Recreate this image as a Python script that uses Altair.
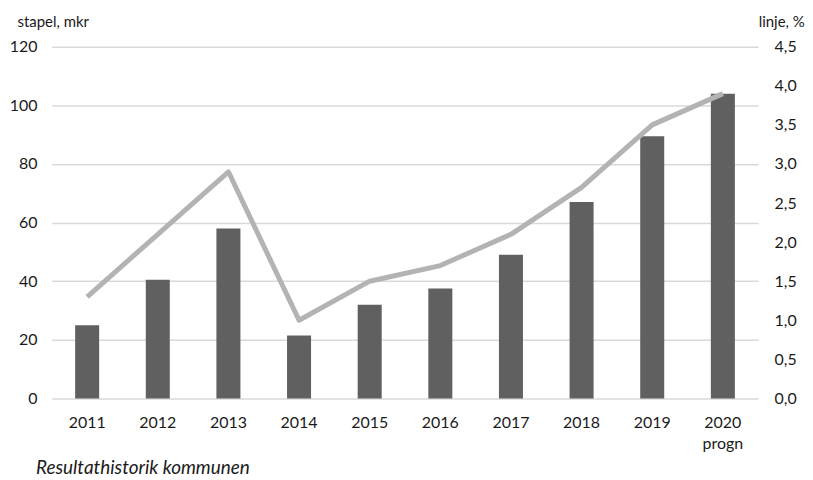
import altair as alt
import pandas as pd

years = ["2011", "2012", "2013", "2014", "2015", "2016", "2017", "2018", "2019", "2020"]
bars_mkr = [25, 40.5, 58, 21.5, 32, 37.5, 49, 67, 89.5, 104]
line_pct = [1.3, 2.1, 2.9, 1.0, 1.5, 1.7, 2.1, 2.7, 3.5, 3.9]

df = pd.DataFrame({"year": years, "mkr": bars_mkr, "pct": line_pct})

FONT = "Lato"

x = alt.X(
    "year:N",
    sort=years,
    scale=alt.Scale(paddingInner=0.66, paddingOuter=0.33),
    axis=alt.Axis(
        title=None, domain=False, ticks=False, grid=False,
        labelAngle=0, labelFontSize=16, labelColor="#1a1a1a", labelPadding=16,
        labelFont=FONT, labelLineHeight=21,
        labelExpr="datum.value == '2020' ? ['2020', 'progn'] : datum.value",
    ),
)

bars = alt.Chart(df).mark_bar(color="#606060").encode(
    x=x,
    y=alt.Y(
        "mkr:Q",
        scale=alt.Scale(domain=[0, 120], nice=False),
        axis=alt.Axis(
            values=[0, 20, 40, 60, 80, 100, 120],
            title="stapel, mkr", titleAngle=0, titleAlign="left", titleBaseline="alphabetic",
            titleX=-35, titleY=-20, titleFontSize=15, titleFontWeight="normal",
            titleFont=FONT, titleColor="#1a1a1a",
            domain=False, ticks=False, labelFontSize=16, labelFont=FONT,
            labelColor="#1a1a1a", labelPadding=15,
            grid=True, gridColor="#d9d9d9", gridWidth=1.5,
        ),
    ),
)

line = alt.Chart(df).mark_line(color="#b3b3b3", strokeWidth=5, strokeJoin="round").encode(
    x=x,
    y=alt.Y(
        "pct:Q",
        scale=alt.Scale(domain=[0, 4.5], nice=False),
        axis=alt.Axis(
            orient="right",
            values=[0, 0.5, 1, 1.5, 2, 2.5, 3, 3.5, 4, 4.5],
            labelExpr="replace(format(datum.value, '.1f'), '.', ',')",
            title="linje, %", titleAngle=0, titleAlign="left", titleBaseline="alphabetic",
            titleX=0, titleY=-20, titleFontSize=15, titleFontWeight="normal",
            titleFont=FONT, titleColor="#1a1a1a",
            domain=False, ticks=False, grid=False, labelFontSize=16, labelFont=FONT,
            labelColor="#1a1a1a", labelPadding=16,
        ),
    ),
)

chart = (
    alt.layer(bars, line)
    .resolve_scale(y="independent")
    .properties(
        width=709,
        height=353,
        padding={"top": 6, "left": 1, "right": 0, "bottom": 2},
        title=alt.TitleParams(
            "Resultathistorik kommunen",
            orient="bottom", anchor="start", frame="bounds",
            fontStyle="italic", fontWeight="normal", fontSize=19,
            font=FONT, color="#1a1a1a", dx=27, offset=8,
        ),
    )
    .configure_view(stroke=None)
)

chart.save("out.html", embed_options={"renderer": "svg", "actions": False})
